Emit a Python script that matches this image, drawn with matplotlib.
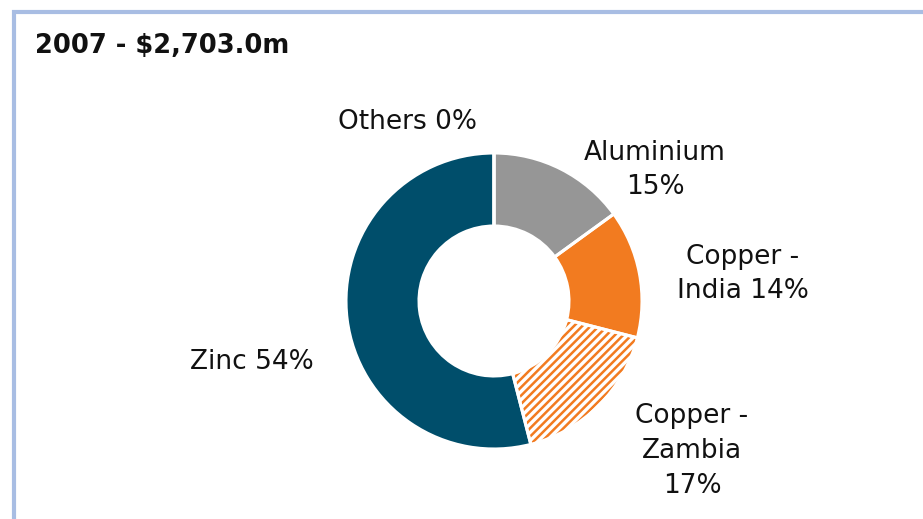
import matplotlib
matplotlib.use("Agg")
import matplotlib.pyplot as plt
from matplotlib.patches import Rectangle

# ---- data ----
title = "2007 - $2,703.0m"
categories = ["Aluminium", "Copper - India", "Copper - Zambia", "Zinc", "Others"]
shares = [15, 14, 17, 54, 0]
label_texts = ["Aluminium\n15%", "Copper -\nIndia 14%", "Copper -\nZambia\n17%", "Zinc 54%", "Others 0%"]

# ---- style ----
colors = ["#969696", "#f27b20", "#ffffff", "#004e6b", "#cccccc"]
hatch_orange = "#f27b20"
frame_color = "#a8bde3"

W, H = 923, 519
fig = plt.figure(figsize=(W / 100, H / 100), dpi=100)
fig.patch.set_facecolor("white")
ax = fig.add_axes([0, 0, 1, 1])
ax.set_xlim(0, W)
ax.set_ylim(0, H)
ax.set_aspect("equal")
ax.axis("off")

plt.rcParams["hatch.linewidth"] = 1.8

center = (494, H - 301)
R = 148
width = 73

# fill layer
wedges, _ = ax.pie(shares, colors=colors, startangle=90, counterclock=False,
                   center=center, radius=R, frame=False,
                   wedgeprops=dict(width=width, linewidth=0, edgecolor="none"))
# hatched Copper - Zambia
zw = wedges[2]
zw.set_edgecolor(hatch_orange)
zw.set_linewidth(0)
zw.set_hatch("////")

# white separators
ax.pie(shares, colors=["none"] * len(shares), startangle=90, counterclock=False,
       center=center, radius=R, frame=False,
       wedgeprops=dict(width=width, linewidth=2.2, edgecolor="white", fill=False))

ax.set_xlim(0, W)
ax.set_ylim(0, H)

# labels (pixel positions, y from top)
label_pos = {
    "Aluminium": (655, 170),
    "Copper - India": (743, 274),
    "Copper - Zambia": (692, 451),
    "Zinc": (252, 362),
    "Others": (408, 122),
}
for cat, txt in zip(categories, label_texts):
    x, y = label_pos[cat]
    ax.text(x, H - y, txt, ha="center", va="center", multialignment="center",
            fontsize=19, color="#111111", linespacing=1.44, family="DejaVu Sans")

# title
ax.text(35, H - 53, title, ha="left", va="baseline", fontsize=18.5,
        fontweight="bold", color="#111111", family="DejaVu Sans")

# frame
fig.add_artist(Rectangle((14 / W, -0.05), 1.2, (H - 12) / H + 0.05,
                         transform=fig.transFigure, fill=False,
                         edgecolor=frame_color, linewidth=3))

fig.savefig("out.png", dpi=100)
